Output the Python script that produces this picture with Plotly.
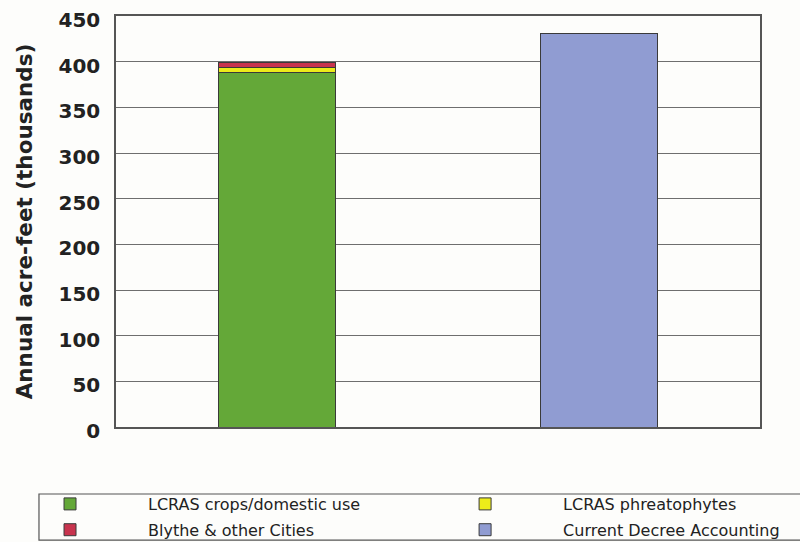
import plotly.graph_objects as go

categories = ["LCRAS", "Decree"]
crops_domestic = [388, None]
phreatophytes = [6, None]
blythe_cities = [5, None]
decree_accounting = [None, 431]

names = ["LCRAS crops/domestic use", "LCRAS phreatophytes",
         "Blythe & other Cities", "Current Decree Accounting"]
colors = ["#64a838", "#ecec1a", "#c8344e", "#909cd2"]
series = [crops_domestic, phreatophytes, blythe_cities, decree_accounting]
legend_ids = ["legend", "legend2", "legend", "legend2"]

fig = go.Figure()
for name, vals, col, lg in zip(names, series, colors, legend_ids):
    fig.add_trace(go.Bar(
        x=categories, y=vals, name=name,
        legend=lg, legendgroup=name,
        marker=dict(color=col, line=dict(color="#3a3a3a", width=1)),
    ))

tick_family = "DejaVu Sans, sans-serif"
text_family = "DejaVu Sans, sans-serif"

legend_common = dict(
    orientation="v",
    yanchor="top", xanchor="left",
    itemwidth=146,
    tracegroupgap=2,
    traceorder="grouped",
    borderwidth=0,
    bgcolor="rgba(0,0,0,0)",
    font=dict(size=16, family=text_family, color="#222"),
    itemclick=False, itemdoubleclick=False,
)

fig.update_layout(
    barmode="stack",
    bargap=0.637,
    width=800, height=542,
    margin=dict(l=116, r=40, t=16, b=115, autoexpand=False),
    paper_bgcolor="#fdfdfb",
    plot_bgcolor="#fdfdfb",
    font=dict(family=text_family, color="#222"),
    showlegend=True,
    legend=dict(x=-0.1925, y=-0.146, **legend_common),
    legend2=dict(x=0.452, y=-0.146, **legend_common),
    xaxis=dict(
        showticklabels=False, ticks="",
        showline=True, linecolor="#555", linewidth=1.5, mirror=True,
        showgrid=False,
    ),
    yaxis=dict(
        range=[0, 450], dtick=50, tick0=0,
        showgrid=True, gridcolor="#6e6e6e", gridwidth=1.3,
        showline=True, linecolor="#555", linewidth=1.5, mirror=True,
        ticks="", zeroline=False,
        ticklabelstandoff=10,
        ticklabelshift=4,
        tickfont=dict(size=20, family=tick_family, weight="bold", color="#222"),
        title=dict(text="Annual acre-feet (thousands)",
                   font=dict(size=21.5, family=tick_family, weight="bold", color="#222"),
                   standoff=20),
    ),
    shapes=[dict(
        type="rect", xref="paper", yref="paper",
        x0=-0.1196, x1=1.09, y0=-0.275, y1=-0.163,
        line=dict(color="#555", width=1.2),
        fillcolor="rgba(0,0,0,0)", layer="above",
    )],
)

fig.write_html("out.html", config={"displayModeBar": False},
               post_script="document.body.style.margin='0';")
